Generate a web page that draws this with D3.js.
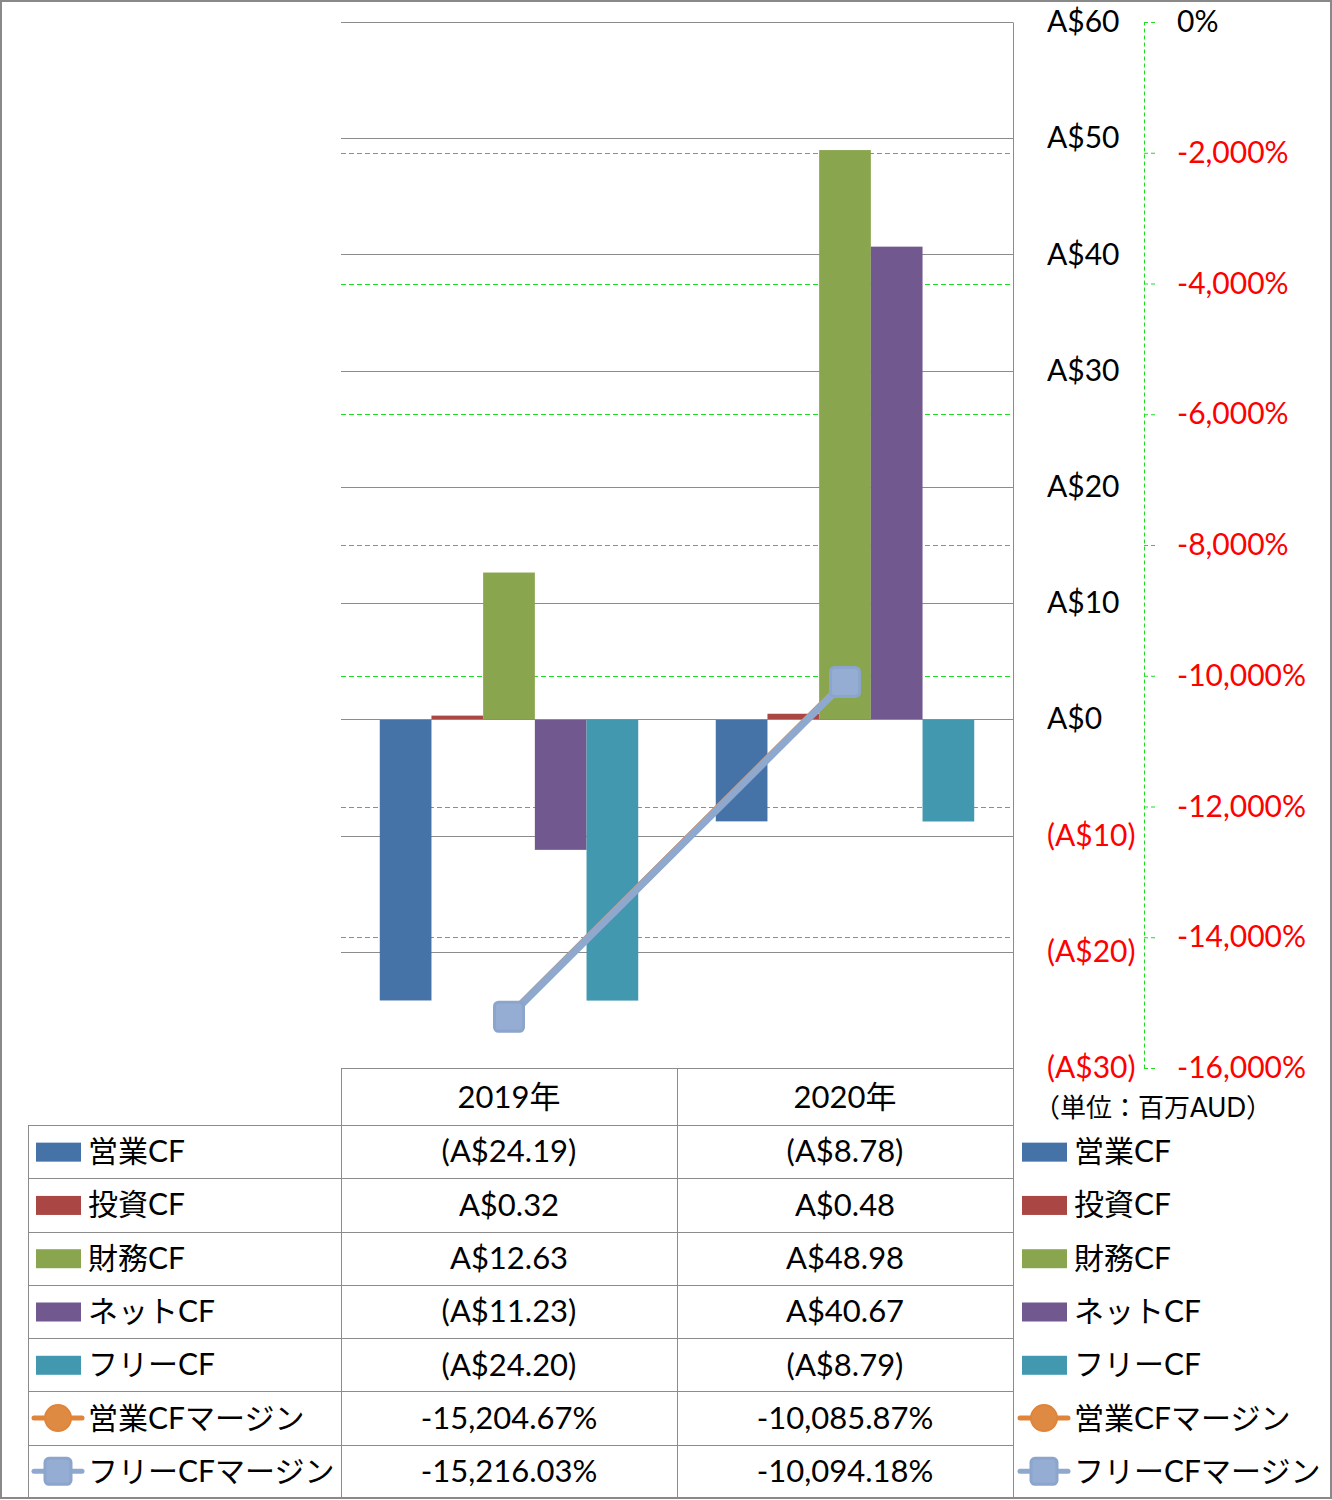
<!DOCTYPE html>
<html>
<head>
<meta charset="utf-8">
<script src="https://cdn.jsdelivr.net/npm/d3@7"></script>
<style>
  html, body { margin: 0; padding: 0; background: #fff; }
  svg { display: block; }
  text { font-family: Lato, "Noto Sans CJK JP", sans-serif; }
</style>
</head>
<body>
<svg id="chart" width="1332" height="1500"></svg>
<script>
// ---------- DATA ----------
const categories = ["2019年", "2020年"];
const barSeries = ["営業CF", "投資CF", "財務CF", "ネットCF", "フリーCF"];
const lineSeries = ["営業CFマージン", "フリーCFマージン"];
const opCF = [-24.19, -8.78];
const invCF = [0.32, 0.48];
const finCF = [12.63, 48.98];
const netCF = [-11.23, 40.67];
const freeCF = [-24.20, -8.79];
const opMargin = [-15204.67, -10085.87];
const freeMargin = [-15216.03, -10094.18];
const leftTicks = [60, 50, 40, 30, 20, 10, 0, -10, -20, -30];
const rightTicks = [0, -2000, -4000, -6000, -8000, -10000, -12000, -14000, -16000];
const unitLabel = "（単位：百万AUD）";

// ---------- STYLE ----------
const barColors = ["#4572A7", "#AA4643", "#89A54E", "#71588F", "#4198AF"];
const orange = "#E0843A", blueLine = "#8EA8CE";
const gridGray = "#8c8c8c", green = "#1EDC1E";

const barValues = [opCF, invCF, finCF, netCF, freeCF];
const lineValues = [opMargin, freeMargin];

const loc = d3.formatLocale({decimal: ".", thousands: ",", grouping: [3], currency: ["", ""], minus: "-"});
const fmtPct = loc.format(",.2f");
const fmtInt = loc.format(",");
const fmtMoney = v => v < 0 ? `(A$${Math.abs(v).toFixed(2)})` : `A$${v.toFixed(2)}`;

const svg = d3.select("#chart");

// layout
const plotL = 341, plotR = 1013, plotT = 22, plotB = 1068;
const x = d3.scaleBand().domain(categories).range([plotL, plotR]).padding(0);
const xs = d3.scaleBand().domain(barSeries).range([0, x.bandwidth()]).paddingInner(0).paddingOuter(0.75);
const yL = d3.scaleLinear().domain([-30, 60]).range([plotB, plotT]);
const yR = d3.scaleLinear().domain([-16000, 0]).range([plotB, plotT]);

// outer border
svg.append("rect").attr("x", 1).attr("y", 1).attr("width", 1330).attr("height", 1497)
  .attr("fill", "#fff").attr("stroke", "#898989").attr("stroke-width", 2);

// green dashed gridlines (secondary axis)
svg.append("g").selectAll("line").data(rightTicks.slice(1, -1)).join("line")
  .attr("x1", plotL).attr("x2", plotR)
  .attr("y1", d => Math.round(yR(d)) + 0.5).attr("y2", d => Math.round(yR(d)) + 0.5)
  .attr("stroke", green).attr("stroke-width", 1).attr("stroke-dasharray", "5,3");

// solid gridlines (primary axis)
svg.append("g").selectAll("line").data(leftTicks).join("line")
  .attr("x1", plotL).attr("x2", plotR)
  .attr("y1", d => Math.round(yL(d)) + 0.5).attr("y2", d => Math.round(yL(d)) + 0.5)
  .attr("stroke", gridGray).attr("stroke-width", 1);

// bars
const barData = [];
categories.forEach((c, ci) => barSeries.forEach((s, si) => barData.push({c, s, si, v: barValues[si][ci]})));
svg.append("g").selectAll("rect").data(barData).join("rect")
  .attr("x", d => x(d.c) + xs(d.s))
  .attr("width", xs.bandwidth())
  .attr("y", d => Math.min(yL(d.v), yL(0)))
  .attr("height", d => Math.abs(yL(d.v) - yL(0)))
  .attr("fill", d => barColors[d.si]);

// redraw zero line over bars
svg.append("line").attr("x1", plotL).attr("x2", plotR)
  .attr("y1", Math.round(yL(0)) + 0.5).attr("y2", Math.round(yL(0)) + 0.5)
  .attr("stroke", gridGray).attr("stroke-width", 1);

// lines
const cx = c => x(c) + x.bandwidth() / 2;
const lineGen = d3.line().x(d => cx(d.c)).y(d => yR(d.v));
// operating CF margin (orange, circles)
const opPts = categories.map((c, i) => ({c, v: opMargin[i]}));
svg.append("path").datum(opPts).attr("d", lineGen).attr("fill", "none")
  .attr("stroke", orange).attr("stroke-width", 7).attr("stroke-linecap", "round");
svg.append("g").selectAll("circle").data(opPts).join("circle")
  .attr("cx", d => cx(d.c)).attr("cy", d => yR(d.v)).attr("r", 13)
  .attr("fill", "#DF8A43").attr("stroke", orange).attr("stroke-width", 2);
// free CF margin (blue, squares)
const frPts = categories.map((c, i) => ({c, v: freeMargin[i]}));
svg.append("path").datum(frPts).attr("d", lineGen).attr("fill", "none")
  .attr("stroke", blueLine).attr("stroke-width", 7.5).attr("stroke-linecap", "round");
const sq = 29;
svg.append("g").selectAll("rect").data(frPts).join("rect")
  .attr("x", d => cx(d.c) - sq / 2).attr("y", d => yR(d.v) - sq / 2)
  .attr("width", sq).attr("height", sq).attr("rx", 4)
  .attr("fill", "#95ACD3").attr("stroke", "#8BA5CC").attr("stroke-width", 3);

// primary axis (labels on right of plot)
const axL = svg.append("g").attr("transform", `translate(${plotR},0)`)
  .call(d3.axisRight(yL).tickValues(leftTicks).tickSize(0).tickPadding(34)
    .tickFormat(d => d < 0 ? `(A$${Math.abs(d)})` : `A$${d}`));
axL.select(".domain").attr("stroke", gridGray).attr("stroke-width", 1);
axL.selectAll("text").attr("font-family", 'Lato, "Noto Sans CJK JP", sans-serif')
  .attr("font-size", 30).attr("fill", d => d < 0 ? "#FF0000" : "#000");

// secondary axis
const axR = svg.append("g").attr("transform", `translate(1144,0)`)
  .call(d3.axisRight(yR).tickValues(rightTicks).tickSize(11).tickSizeOuter(0).tickPadding(22)
    .tickFormat(d => fmtInt(d) + "%"));
axR.select(".domain").attr("stroke", green).attr("stroke-dasharray", "4,3");
axR.selectAll(".tick line").attr("stroke", green).attr("stroke-dasharray", "4,3");
axR.selectAll("text").attr("font-family", 'Lato, "Noto Sans CJK JP", sans-serif')
  .attr("font-size", 30).attr("fill", d => d < 0 ? "#FF0000" : "#000");

// ---------- DATA TABLE ----------
const allSeries = barSeries.concat(lineSeries);
const rowY = d3.scaleBand().domain(allSeries).range([1125, 1498]).padding(0);
const headT = plotB, headB = 1125;
const tbl = svg.append("g");
// horizontal lines
tbl.append("line").attr("x1", plotL).attr("x2", plotR).attr("y1", headT + 0.5).attr("y2", headT + 0.5).attr("stroke", gridGray);
tbl.selectAll(".hl").data(allSeries).join("line")
  .attr("x1", 28).attr("x2", plotR)
  .attr("y1", d => Math.round(rowY(d)) + 0.5).attr("y2", d => Math.round(rowY(d)) + 0.5)
  .attr("stroke", gridGray);
// vertical lines
tbl.append("line").attr("x1", 28.5).attr("x2", 28.5).attr("y1", headB).attr("y2", 1498).attr("stroke", gridGray);
[plotL, x(categories[1]), plotR].forEach(xx => {
  tbl.append("line").attr("x1", Math.round(xx) + 0.5).attr("x2", Math.round(xx) + 0.5)
    .attr("y1", headT).attr("y2", 1498).attr("stroke", gridGray);
});
// header labels
tbl.selectAll(".hd").data(categories).join("text")
  .attr("x", d => cx(d)).attr("y", (headT + headB) / 2 + 1).attr("dy", "0.35em")
  .attr("text-anchor", "middle").attr("font-size", 31).attr("fill", "#000").text(d => d);

// cell values
const cells = [];
allSeries.forEach((s, si) => categories.forEach((c, ci) => {
  const v = si < 5 ? barValues[si][ci] : lineValues[si - 5][ci];
  cells.push({s, c, txt: si < 5 ? fmtMoney(v) : fmtPct(v) + "%"});
}));
tbl.selectAll(".cv").data(cells).join("text")
  .attr("x", d => cx(d.c)).attr("y", d => rowY(d.s) + rowY.bandwidth() / 2)
  .attr("dy", "0.35em").attr("text-anchor", "middle").attr("font-size", 31).attr("fill", "#000")
  .text(d => d.txt);

// legend keys (table + right legend)
function drawKey(g, series, kx) {
  const si = allSeries.indexOf(series);
  const yc = rowY(series) + rowY.bandwidth() / 2;
  if (si < 5) {
    g.append("rect").attr("x", kx).attr("y", yc - 9).attr("width", 45).attr("height", 19)
      .attr("fill", barColors[si]);
  } else {
    const col = si === 5 ? orange : blueLine;
    const mid = kx + 22;
    g.append("line").attr("x1", kx - 2).attr("x2", kx + 46).attr("y1", yc).attr("y2", yc)
      .attr("stroke", col).attr("stroke-width", 5).attr("stroke-linecap", "round");
    if (si === 5) {
      g.append("circle").attr("cx", mid).attr("cy", yc).attr("r", 13)
        .attr("fill", "#DF8A43").attr("stroke", orange).attr("stroke-width", 2);
    } else {
      g.append("rect").attr("x", mid - 13).attr("y", yc - 13).attr("width", 26).attr("height", 26)
        .attr("rx", 4).attr("fill", "#95ACD3").attr("stroke", "#8BA5CC").attr("stroke-width", 3);
    }
  }
}
allSeries.forEach(s => {
  drawKey(tbl, s, 36);
  drawKey(tbl, s, 1022);
});
tbl.selectAll(".rl").data(allSeries).join("text")
  .attr("x", 88).attr("y", d => rowY(d) + rowY.bandwidth() / 2).attr("dy", "0.35em")
  .attr("font-size", 30).attr("fill", "#000").text(d => d);
tbl.selectAll(".ll").data(allSeries).join("text")
  .attr("x", 1074).attr("y", d => rowY(d) + rowY.bandwidth() / 2).attr("dy", "0.35em")
  .attr("font-size", 30).attr("fill", "#000").text(d => d);

// unit label
svg.append("text").attr("x", 1034).attr("y", 1108).attr("dy", "0.35em")
  .attr("font-size", 26).attr("fill", "#000").text(unitLabel);
</script>
</body>
</html>
